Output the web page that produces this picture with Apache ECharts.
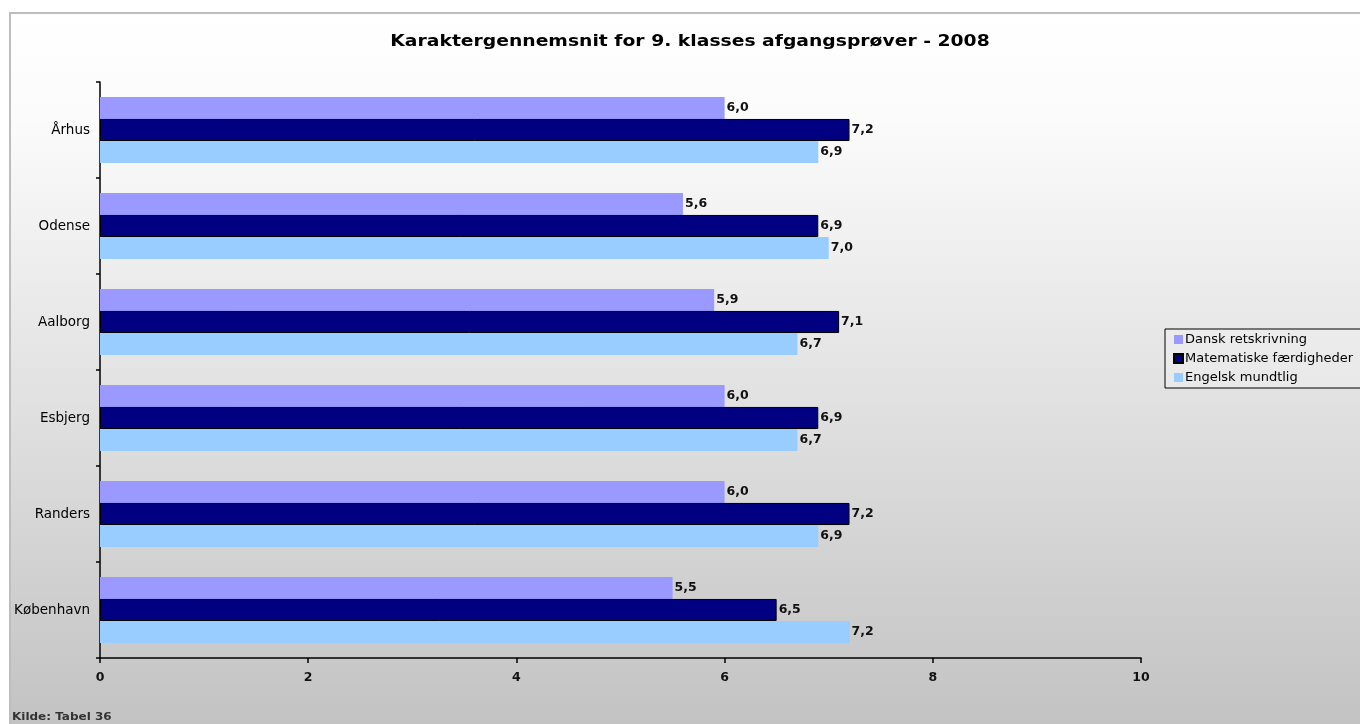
<!DOCTYPE html>
<html>
<head>
<meta charset="utf-8">
<script src="https://cdn.jsdelivr.net/npm/echarts@6/dist/echarts.min.js"></script>
<style>
html,body{margin:0;padding:0;background:#fff;}
#chart{width:1360px;height:724px;}
</style>
</head>
<body>
<div id="chart"></div>
<script>
const categories = ['Århus', 'Odense', 'Aalborg', 'Esbjerg', 'Randers', 'København'];
const danskRetskrivning = [6.0, 5.6, 5.9, 6.0, 6.0, 5.5];
const matematiskeFaerdigheder = [7.2, 6.9, 7.1, 6.9, 7.2, 6.5];
const engelskMundtlig = [6.9, 7.0, 6.7, 6.7, 6.9, 7.2];
const seriesNames = ['Dansk retskrivning', 'Matematiske færdigheder', 'Engelsk mundtlig'];
const xTicks = [0, 2, 4, 6, 8, 10];
const titleText = 'Karaktergennemsnit for 9. klasses afgangsprøver - 2008';
const sourceText = 'Kilde: Tabel 36';

const chart = echarts.init(document.getElementById('chart'));
const fmt = v => v.toFixed(1).replace('.', ',');
const labelCfg = {
  show: true, position: 'right', distance: 2,
  formatter: p => fmt(p.value),
  fontFamily: 'DejaVu Sans', fontWeight: 'bold', fontSize: 12.5, color: '#111'
};
chart.setOption({
  animation: false,
  backgroundColor: 'transparent',
  graphic: [
    {
      type: 'rect', z: -100, silent: true,
      shape: { x: 10, y: 13, width: 1360, height: 720 },
      style: {
        fill: new echarts.graphic.LinearGradient(0, 0, 0, 1, [
          { offset: 0, color: '#ffffff' },
          { offset: 0.15, color: '#fbfbfb' },
          { offset: 1, color: '#c2c2c2' }
        ]),
        stroke: '#bdbdbd', lineWidth: 2
      }
    },
    {
      type: 'text', x: 690, y: 42, scaleX: 1.25, silent: true,
      style: { text: titleText, x: 0, y: 0, align: 'center', verticalAlign: 'middle',
               font: 'bold 15px DejaVu Sans', fill: '#000' }
    },
    {
      type: 'text', x: 12, y: 717, scaleX: 1.2, silent: true,
      style: { text: sourceText, x: 0, y: 0, verticalAlign: 'middle',
               font: 'bold 10px DejaVu Sans', fill: '#333' }
    }
  ],
  legend: {
    orient: 'vertical', left: 1165, top: 329,
    itemWidth: 9, itemHeight: 9, itemGap: 4,
    padding: [3, 40, 3, 8],
    borderColor: '#000', borderWidth: 1,
    backgroundColor: 'rgba(240,240,240,0.5)',
    icon: 'rect',
    textStyle: { fontFamily: 'DejaVu Sans', fontSize: 13, lineHeight: 15, color: '#000', padding: [0, 0, 0, -3] },
    data: seriesNames
  },
  grid: { left: 100, top: 82, width: 1041, height: 576, containLabel: false },
  xAxis: {
    type: 'value', min: xTicks[0], max: xTicks[xTicks.length - 1], interval: 2,
    axisLine: { show: true, lineStyle: { color: '#000', width: 1.5 } },
    axisTick: { show: true, length: 5, lineStyle: { color: '#000', width: 1.5 } },
    splitLine: { show: false },
    axisLabel: { margin: 13, fontFamily: 'DejaVu Sans', fontSize: 12.5, fontWeight: 'bold', color: '#111' }
  },
  yAxis: {
    type: 'category', data: categories, inverse: true,
    axisLine: { show: true, lineStyle: { color: '#000', width: 1.5 } },
    axisTick: { show: true, length: 4, lineStyle: { color: '#000', width: 1.5 } },
    axisLabel: { margin: 10, fontFamily: 'DejaVu Sans', fontSize: 13.5, color: '#000' }
  },
  series: [
    { name: seriesNames[0], type: 'bar', data: danskRetskrivning, barGap: '0%', barCategoryGap: '31%',
      itemStyle: { color: '#9999FF' }, label: labelCfg },
    { name: seriesNames[1], type: 'bar', data: matematiskeFaerdigheder, barGap: '0%', barCategoryGap: '31%',
      itemStyle: { color: '#000080', borderColor: '#000', borderWidth: 1 }, label: labelCfg },
    { name: seriesNames[2], type: 'bar', data: engelskMundtlig, barGap: '0%', barCategoryGap: '31%',
      itemStyle: { color: '#99CCFF' }, label: labelCfg }
  ]
});
</script>
</body>
</html>
